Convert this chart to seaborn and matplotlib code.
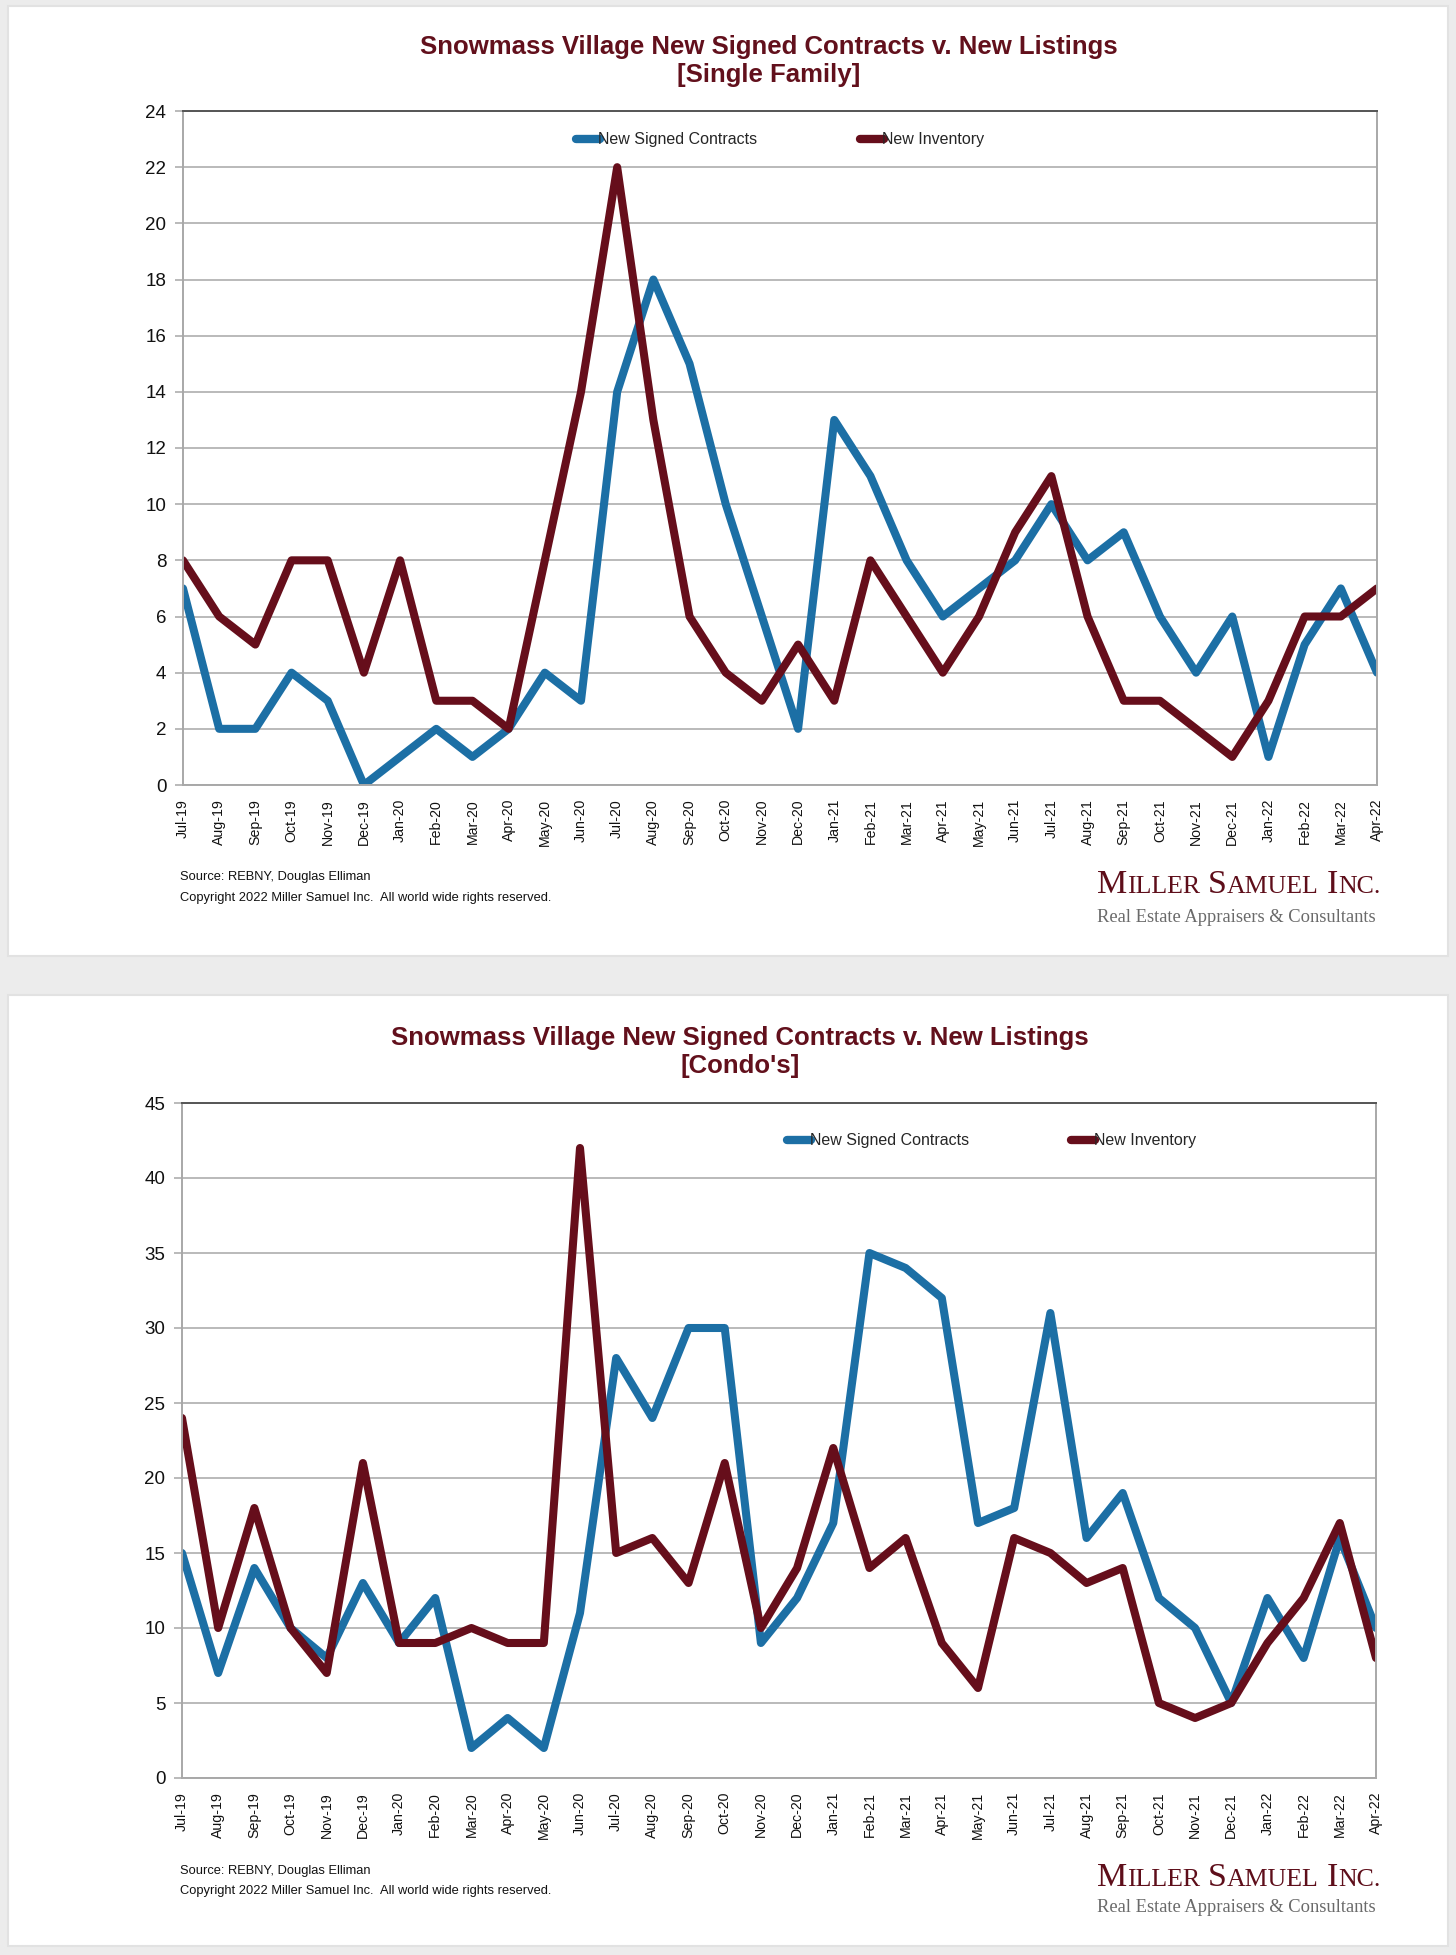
import numpy as np
import pandas as pd
import matplotlib
matplotlib.use("Agg")
import matplotlib.pyplot as plt
import seaborn as sns
from matplotlib.patches import Rectangle
from matplotlib.lines import Line2D

# ---------------- data ----------------
months = ["Jul-19", "Aug-19", "Sep-19", "Oct-19", "Nov-19", "Dec-19",
          "Jan-20", "Feb-20", "Mar-20", "Apr-20", "May-20", "Jun-20",
          "Jul-20", "Aug-20", "Sep-20", "Oct-20", "Nov-20", "Dec-20",
          "Jan-21", "Feb-21", "Mar-21", "Apr-21", "May-21", "Jun-21",
          "Jul-21", "Aug-21", "Sep-21", "Oct-21", "Nov-21", "Dec-21",
          "Jan-22", "Feb-22", "Mar-22", "Apr-22"]

sf_contracts = [7, 2, 2, 4, 3, 0, 1, 2, 1, 2, 4, 3, 14, 18, 15, 10, 6, 2,
                13, 11, 8, 6, 7, 8, 10, 8, 9, 6, 4, 6, 1, 5, 7, 4]
sf_inventory = [8, 6, 5, 8, 8, 4, 8, 3, 3, 2, 8, 14, 22, 13, 6, 4, 3, 5,
                3, 8, 6, 4, 6, 9, 11, 6, 3, 3, 2, 1, 3, 6, 6, 7]

condo_contracts = [15, 7, 14, 10, 8, 13, 9, 12, 2, 4, 2, 11, 28, 24, 30, 30, 9, 12,
                   17, 35, 34, 32, 17, 18, 31, 16, 19, 12, 10, 5, 12, 8, 16, 10]
condo_inventory = [24, 10, 18, 10, 7, 21, 9, 9, 10, 9, 9, 42, 15, 16, 13, 21, 10, 14,
                   22, 14, 16, 9, 6, 16, 15, 13, 14, 5, 4, 5, 9, 12, 17, 8]

series_names = ["New Signed Contracts", "New Inventory"]
titles = ["Snowmass Village New Signed Contracts v. New Listings\n[Single Family]",
          "Snowmass Village New Signed Contracts v. New Listings\n[Condo's]"]
source_text = "Source: REBNY, Douglas Elliman"
copyright_text = "Copyright 2022 Miller Samuel Inc.  All world wide rights reserved."

# ---------------- style ----------------
BLUE = "#1c6fa5"
MAROON = "#660e1b"
TITLE_COLOR = "#62101c"
palette = {series_names[0]: BLUE, series_names[1]: MAROON}

sns.set_theme(style="white")
plt.rcParams['font.family'] = ['Liberation Sans', 'DejaVu Sans']

W, H = 1456, 1955
fig = plt.figure(figsize=(W / 100, H / 100), dpi=100, facecolor="#ececec")


def fx(x):
    return x / W


def fy(y):
    return 1 - y / H


def rect(x0, y0, x1, y1):
    return [fx(x0), fy(y1), (x1 - x0) / W, (y1 - y0) / H]


# white panels (behind everything)
for (y0, y1) in [(6, 956), (995, 1946)]:
    fig.patches.append(Rectangle((fx(8), fy(y1)), (1448 - 8) / W, (y1 - y0) / H,
                                 transform=fig.transFigure, facecolor="white",
                                 edgecolor="#e2e2e2", lw=1.5, zorder=-10))


def draw_panel(ax, contracts, inventory, ymax, ystep, legend_x, legend_y):
    n = len(months)
    df = pd.DataFrame({
        "idx": list(range(n)) * 2,
        "value": contracts + inventory,
        "series": [series_names[0]] * n + [series_names[1]] * n,
    })
    sns.lineplot(data=df, x="idx", y="value", hue="series", palette=palette,
                 linewidth=5.8, ax=ax, legend=False, sort=False)
    for ln in ax.lines:
        ln.set_solid_joinstyle("round")
        ln.set_solid_capstyle("round")
    ax.set_facecolor("white")
    ax.set_xlim(0, n - 1)
    ax.set_ylim(0, ymax)
    ax.set_xticks(range(n))
    ax.set_xticklabels(months, rotation=90, fontsize=10.2, color="#111111")
    yt = np.arange(0, ymax + 0.1, ystep)
    ax.set_yticks(yt)
    ax.set_yticklabels([f"{int(v)}" for v in yt], fontsize=13.5, color="#111111")
    ax.set_xlabel("")
    ax.set_ylabel("")
    ax.yaxis.grid(True, color="#b4b4b4", lw=1.3)
    ax.xaxis.grid(False)
    ax.set_axisbelow(True)
    ax.tick_params(axis="y", which="both", left=True, length=6, width=1.3,
                   color="#b4b4b4", pad=6)
    ax.tick_params(axis="x", which="both", bottom=False, pad=4)
    for s in ["left", "bottom", "right"]:
        ax.spines[s].set_color("#a8a8a8")
        ax.spines[s].set_linewidth(1.4)
    ax.spines["top"].set_color("#555555")
    ax.spines["top"].set_linewidth(1.4)
    handles = [Line2D([0], [0], color=palette[s], lw=6, solid_capstyle="round")
               for s in series_names]
    ax.legend(handles, series_names, loc="center", bbox_to_anchor=(legend_x, legend_y),
              ncol=2, frameon=False, handlelength=1.5, handletextpad=-0.1,
              columnspacing=6.4, fontsize=11.5)


ax1 = fig.add_axes(rect(183, 111, 1377, 785))
draw_panel(ax1, sf_contracts, sf_inventory, 24, 2, 0.5, 0.957)
ax2 = fig.add_axes(rect(182, 1103, 1376, 1778))
draw_panel(ax2, condo_contracts, condo_inventory, 45, 5, 0.678, 0.944)

# titles
for xcen, ycen, t in [(769, 61, titles[0]), (740, 1052, titles[1])]:
    fig.text(fx(xcen), fy(ycen), t, ha="center", va="center", fontsize=18.5,
             fontweight="bold", color=TITLE_COLOR, linespacing=1.25)

# footer
for ys, yc in [(877, 898), (1871, 1891)]:
    fig.text(fx(180), fy(ys), source_text, ha="left", va="center", fontsize=9.3,
             color="#111111")
    fig.text(fx(180), fy(yc), copyright_text, ha="left", va="center", fontsize=9.3,
             color="#111111")

# logo (small caps, fitted to width)
renderer = fig.canvas.get_renderer()
SERIF = ["Liberation Serif", "DejaVu Serif"]


def small_caps(x0, y_base, target_w, color):
    words = [("M", "ILLER"), ("S", "AMUEL"), ("I", "NC.")]

    def build(size):
        objs = []
        x = x0
        for wi, (big, small) in enumerate(words):
            t1 = fig.text(fx(x), fy(y_base), big, fontsize=size, family=SERIF,
                          color=color, ha="left", va="baseline")
            x += t1.get_window_extent(renderer=renderer).width
            t2 = fig.text(fx(x), fy(y_base), small, fontsize=size * 0.76, family=SERIF,
                          color=color, ha="left", va="baseline")
            x += t2.get_window_extent(renderer=renderer).width
            objs += [t1, t2]
            if wi < len(words) - 1:
                x += size * 0.32
        return objs, x - x0

    objs, w = build(30)
    for o in objs:
        o.remove()
    build(30 * target_w / w)


def fitted_text(x0, y_base, s, target_w, color):
    t = fig.text(fx(x0), fy(y_base), s, fontsize=14, family=SERIF, color=color,
                 ha="left", va="baseline")
    w = t.get_window_extent(renderer=renderer).width
    t.set_fontsize(14 * target_w / w)


for yb1, yb2 in [(893, 922), (1886, 1912)]:
    small_caps(1097, yb1, 283, "#5e0e1a")
    fitted_text(1097, yb2, "Real Estate Appraisers & Consultants", 281, "#6a6a6a")

fig.savefig("out.png", dpi=100, facecolor=fig.get_facecolor())
